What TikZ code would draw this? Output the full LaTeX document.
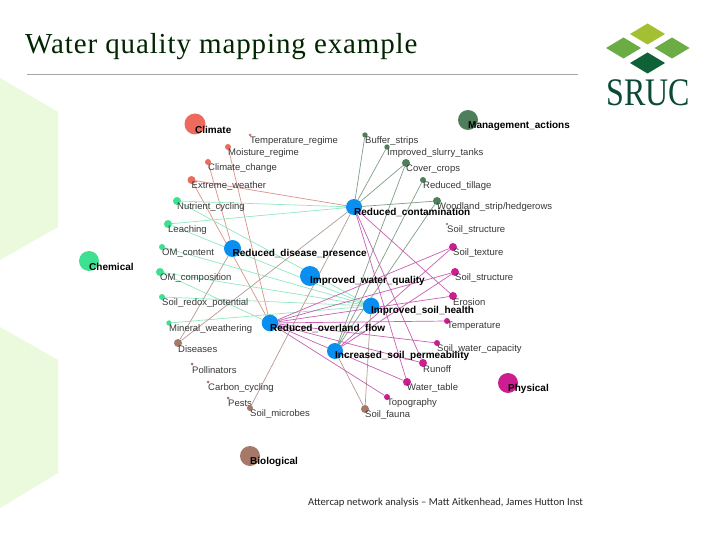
\documentclass[tikz,border=0pt]{standalone}
\usepackage{fontspec}
\setmainfont{Liberation Sans}
\newfontfamily\ttlfont{Liberation Serif}
\newfontfamily\ttlspaced[LetterSpace=3]{Liberation Serif}
\newfontfamily\notefont{Carlito}
\pgfdeclarelayer{bg}
\pgfsetlayers{bg,main}
\definecolor{cClim}{HTML}{EE6A5E}
\definecolor{cMgmt}{HTML}{4E7F5A}
\definecolor{cChem}{HTML}{3DE090}
\definecolor{cPhys}{HTML}{CC1E90}
\definecolor{cBio}{HTML}{A57868}
\definecolor{cHub}{HTML}{0A8FF0}
\definecolor{eClim}{HTML}{D8938A}
\definecolor{eMgmt}{HTML}{7F9F88}
\definecolor{eChem}{HTML}{8FE8C0}
\definecolor{ePhys}{HTML}{C860B4}
\definecolor{eBio}{HTML}{B39C92}
\definecolor{hexc}{HTML}{EBF9DD}
\tikzset{
  dot/.style={circle,inner sep=0pt,draw=none},
  leaflab/.style={anchor=west,inner sep=0pt,text=black!78,font=\fontsize{9.5}{9}\selectfont},
  catlab/.style={anchor=west,inner sep=0pt,text=black,font=\fontsize{10}{9}\selectfont\bfseries},
  hublab/.style={anchor=west,inner sep=0pt,text=black,font=\fontsize{10}{9}\selectfont\bfseries},
  edge/.style={line width=0.7pt},
}
% name, x, y, radius, colour, text
\newcommand{\leafnode}[6]{%
  \node[dot,fill=#5,minimum size=#4*2pt] (#1) at (#2,#3) {};
  \node[leaflab,yshift=-5.7pt] (#1-l) at (#2,#3) {#6};
}
\newcommand{\catnode}[6]{%
  \node[dot,fill=#5,minimum size=#4*2pt] (#1) at (#2,#3) {};
  \node[catlab,yshift=-5.5pt] (#1-l) at (#2,#3) {#6};
}
\newcommand{\hubnode}[5]{%
  \node[dot,fill=cHub,minimum size=#4*2pt] (#1) at (#2,#3) {};
  \node[hublab,yshift=-5.2pt] (#1-l) at (#2,#3) {#5};
}
\begin{document}
\begin{tikzpicture}[x=1pt,y=-1pt]
\useasboundingbox (0,0) rectangle (720,540);
\begin{pgfonlayer}{bg}
\fill[white] (0,0) rectangle (720,540);
\fill[hexc] (0,78) -- (58,112) -- (58,227) -- (0,260) -- cycle;
\fill[hexc] (0,327) -- (58,360) -- (58,473) -- (0,508) -- cycle;
\draw[black!35,line width=0.7pt] (27,74) -- (578,74);
\end{pgfonlayer}
\node[anchor=west,inner sep=0pt,text=black!85!green,font=\ttlspaced\fontsize{29}{29}\selectfont] (title) at (25,47) {Water quality mapping example};
\node[anchor=west,inner sep=0pt,text=black!85,font=\notefont\fontsize{10.6}{11}\selectfont] (note) at (308,503) {Attercap network analysis – Matt Aitkenhead, James Hutton Inst};
% logo
\fill[fill={rgb,255:red,163;green,191;blue,50}] (630,34) -- (647.5,23.5) -- (665,34) -- (647.5,44.5) -- cycle;
\fill[fill={rgb,255:red,108;green,172;blue,68}] (606,48) -- (623.5,37.5) -- (641,48) -- (623.5,58.5) -- cycle;
\fill[fill={rgb,255:red,108;green,172;blue,68}] (654.5,48) -- (672,37.5) -- (689.5,48) -- (672,58.5) -- cycle;
\fill[fill={rgb,255:red,15;green,98;blue,56}] (630,63) -- (647.5,52.5) -- (665,63) -- (647.5,73.5) -- cycle;
\node[inner sep=0pt,text={rgb,255:red,11;green,74;blue,53},font=\ttlfont\fontsize{39}{39}\selectfont] (sruc) at (648,93) {\scalebox{0.82}[1]{SRUC}};
% categories
\catnode{climate}{195}{124}{10.5}{cClim}{Climate}
\catnode{mgmt}{468}{120}{10}{cMgmt}{Management\_actions}
\catnode{chem}{89}{261}{10}{cChem}{Chemical}
\catnode{phys}{508}{383}{10}{cPhys}{Physical}
\catnode{bio}{250}{456}{10}{cBio}{Biological}
% hubs
\hubnode{rc}{354}{207}{8}{Reduced\_contamination}
\hubnode{rdp}{232.5}{248.5}{8.5}{Reduced\_disease\_presence}
\hubnode{iwq}{310}{276}{10}{Improved\_water\_quality}
\hubnode{ish}{371}{306}{8.3}{Improved\_soil\_health}
\hubnode{rof}{270}{323}{8.3}{Reduced\_overland\_flow}
\hubnode{icp}{335}{351}{8}{Increased\_soil\_permeability}
% leaves
\leafnode{tr}{250}{135}{1.5}{cClim}{Temperature\_regime}
\leafnode{mr}{228}{147}{3}{cClim}{Moisture\_regime}
\leafnode{cc}{208}{162}{3}{cClim}{Climate\_change}
\leafnode{ew}{191.5}{180}{4}{cClim}{Extreme\_weather}
\leafnode{nc}{177}{201}{4}{cChem}{Nutrient\_cycling}
\leafnode{le}{168}{224}{4}{cChem}{Leaching}
\leafnode{om}{162}{247}{3}{cChem}{OM\_content}
\leafnode{oc}{160}{272}{4}{cChem}{OM\_composition}
\leafnode{sr}{162}{297}{3}{cChem}{Soil\_redox\_potential}
\leafnode{mw}{169}{323}{2.7}{cChem}{Mineral\_weathering}
\leafnode{di}{178}{343}{4}{cBio}{Diseases}
\leafnode{po}{192}{364}{1.5}{cBio}{Pollinators}
\leafnode{cy}{208}{382}{1.5}{cBio}{Carbon\_cycling}
\leafnode{pe}{228}{398}{1.5}{cBio}{Pests}
\leafnode{sm}{250}{408}{3}{cBio}{Soil\_microbes}
\leafnode{sf}{365}{409}{4}{cBio}{Soil\_fauna}
\leafnode{to}{387}{397}{3}{cPhys}{Topography}
\leafnode{wt}{407}{382}{4}{cPhys}{Water\_table}
\leafnode{ru}{423}{363}{4}{cPhys}{Runoff}
\leafnode{wc}{437}{343}{3}{cPhys}{Soil\_water\_capacity}
\leafnode{te}{447}{321}{3}{cPhys}{Temperature}
\leafnode{er}{453}{296}{4}{cPhys}{Erosion}
\leafnode{st}{455}{272}{4}{cPhys}{Soil\_structure}
\leafnode{tx}{453}{247}{4}{cPhys}{Soil\_texture}
\leafnode{s2}{447}{224}{1.2}{cMgmt}{Soil\_structure}
\leafnode{wo}{437}{201}{4}{cMgmt}{Woodland\_strip/hedgerows}
\leafnode{ti}{423}{180}{3}{cMgmt}{Reduced\_tillage}
\leafnode{co}{406}{163}{4}{cMgmt}{Cover\_crops}
\leafnode{sl}{387}{147}{2.7}{cMgmt}{Improved\_slurry\_tanks}
\leafnode{bu}{365}{135}{2.7}{cMgmt}{Buffer\_strips}
% edges
\begin{pgfonlayer}{bg}
\draw[edge,eClim] (ew)--(rc) (ew)--(rof) (mr)--(rof) (cc)--(rdp);
\draw[edge,eChem] (nc)--(rc) (nc)--(ish) (le)--(rc) (le)--(ish) (om)--(ish) (oc)--(ish) (oc)--(rof) (sr)--(ish) (mw)--(ish);
\draw[edge,eBio] (di)--(rdp) (di)--(rc) (sm)--(rc) (sf)--(icp) (sf)--(ish);
\draw[edge,eMgmt] (bu)--(rc) (sl)--(rc) (co)--(rc) (wo)--(rc) (co)--(icp) (ti)--(icp) (wo)--(icp);
\draw[edge,ePhys] (rc)--(wt) (rc)--(ru) (rc)--(er)
  (rof)--(tx) (rof)--(st) (rof)--(er) (rof)--(te) (rof)--(wc) (rof)--(ru) (rof)--(wt) (rof)--(to)
  (icp)--(tx) (icp)--(st);
\end{pgfonlayer}
\end{tikzpicture}
\end{document}
